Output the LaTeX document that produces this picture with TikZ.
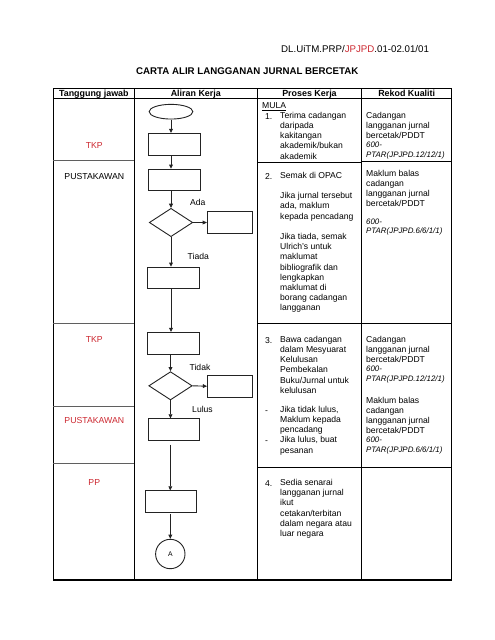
\documentclass[tikz,border=0pt]{standalone}
\usepackage{fontspec}
\setmainfont{Liberation Sans}
\usetikzlibrary{shapes.geometric,arrows.meta}
\definecolor{docred}{RGB}{204,40,48}
\definecolor{flowline}{RGB}{35,35,35}
\definecolor{rowline}{RGB}{95,95,95}
\begin{document}
\begin{tikzpicture}[x=1pt,y=-1pt,
  body/.style={font=\fontsize{8.6}{10.2}\selectfont, inner sep=0pt, anchor=north west, align=left, yshift=7.14pt, execute at begin node={\strut}},
  ital/.style={font=\fontsize{7.9}{9.3}\selectfont\itshape, inner sep=0pt, anchor=north west, align=left, yshift=6.51pt, execute at begin node={\strut}},
  lbl/.style={font=\fontsize{8.6}{10.2}\selectfont, inner sep=0pt, anchor=base},
  lblw/.style={font=\fontsize{8.6}{10.2}\selectfont, inner sep=0pt, anchor=base west},
  head/.style={font=\fontsize{8.9}{10}\selectfont\bfseries, inner sep=0pt, anchor=base},
  resp/.style={font=\fontsize{8.7}{10}\selectfont, inner sep=0pt, anchor=base},
  flowbox/.style={rectangle, draw=flowline, line width=0.9pt, minimum width=51.6pt, minimum height=21.6pt, inner sep=0pt},
  sidebox/.style={rectangle, draw=flowline, line width=0.9pt, minimum width=45pt, minimum height=21.6pt, inner sep=0pt},
  decision/.style={diamond, draw=flowline, line width=0.9pt, minimum width=43.4pt, minimum height=28.3pt, inner sep=0pt},
  flowarrow/.style={draw=flowline, line width=0.9pt, -{Triangle[length=4.2pt,width=3.8pt]}},
  frame/.style={line width=1.2pt, draw=black},
  rule/.style={line width=0.9pt, draw=black},
  greyrule/.style={line width=0.9pt, draw=rowline}
]
\useasboundingbox (0,0) rectangle (495,640);

% document id and title
\node[font=\fontsize{9.7}{11}\selectfont, inner sep=0pt, anchor=base west] (docid) at (281,52.8)
  {DL.UiTM.PRP/\textcolor{docred}{JPJPD}.01-02.01/01};
\node[font=\fontsize{9.7}{11}\selectfont\bfseries, inner sep=0pt, anchor=base] (title) at (247.3,74.8)
  {CARTA ALIR LANGGANAN JURNAL BERCETAK};

% table frame
\draw[frame] (53.3,88.3) rectangle (451.7,580);
\draw[frame] (134.3,88.3) -- (134.3,580);
\draw[frame] (257.3,88.3) -- (257.3,580);
\draw[frame] (361.7,88.3) -- (361.7,580);
\draw[rule] (53.3,98) -- (451.7,98);
% row rules, first column
\draw[greyrule] (53.3,160.5) -- (134.3,160.5);
\draw[greyrule] (53.3,323.3) -- (134.3,323.3);
\draw[greyrule] (53.3,406.7) -- (134.3,406.7);
\draw[greyrule] (53.3,463.3) -- (134.3,463.3);
% row rules, last two columns
\draw[rule] (257.3,162) -- (361.7,162);
\draw[rule] (361.7,161) -- (451.7,161);
\draw[rule] (257.3,323) -- (451.7,323);
\draw[rule] (257.3,467) -- (451.7,467);

% header
\node[head] (h1) at (93.8,96.2) {Tanggung jawab};
\node[head] (h2) at (195.8,96.2) {Aliran Kerja};
\node[head] (h3) at (309.5,96.2) {Proses Kerja};
\node[head] (h4) at (406.7,96.2) {Rekod Kualiti};

% responsibility column
\node[resp, text=docred] (r1) at (94.3,148.1) {TKP};
\node[resp] (r2) at (94.3,179.1) {PUSTAKAWAN};
\node[resp, text=docred] (r3) at (94.3,342.1) {TKP};
\node[resp, text=docred] (r4) at (94.3,423.8) {PUSTAKAWAN};
\node[resp, text=docred] (r5) at (94.3,485.4) {PP};

% flow chart
\node[ellipse, draw=flowline, line width=0.9pt, minimum width=43.7pt, minimum height=14.7pt, inner sep=0pt] (start) at (171,111.7) {};
\node[flowbox] (b1) at (174.5,144.2) {};
\node[flowbox] (b2) at (174.5,180) {};
\node[decision] (d1) at (171,222.5) {};
\node[sidebox] (s1) at (229.8,222.5) {};
\node[flowbox] (b3) at (173.5,278) {};
\node[flowbox] (b4) at (173.5,343.2) {};
\node[decision] (d2) at (170.5,385.8) {};
\node[sidebox] (s2) at (230,386.2) {};
\node[flowbox] (b5) at (174,429.7) {};
\node[flowbox] (b6) at (171,501.7) {};
\node[circle, draw=flowline, line width=0.9pt, minimum size=29.4pt, inner sep=0pt, font=\fontsize{6.8}{8}\selectfont] (conA) at (170.3,554) {A};

\draw[flowarrow] (start.south) -- (start.south |- b1.north);
\draw[flowarrow] (b1.south -| start) -- (b2.north -| start);
\draw[flowarrow] (b2.south -| d1) -- (d1.north);
\draw[flowarrow] (d1.east) -- (s1.west);
\draw[flowarrow] (d1.south) -- (d1.south |- b3.north);
\draw[flowarrow] (b3.south -| d1) -- (b4.north -| d1);
\draw[flowarrow] (b4.south -| d2) -- (d2.north);
\draw[flowarrow] (d2.east) -- (s2.west);
\draw[flowarrow] (d2.south) -- (d2.south |- b5.north);
\draw[flowarrow, shorten <=3.7pt] (b5.south -| conA) -- (b6.north -| conA);
\draw[flowarrow, shorten <=1.5pt] (b6.south -| conA) -- (conA.north);

\node[lbl] (ada) at (197.8,205.7) {Ada};
\node[lbl] (tiada) at (198.3,259.7) {Tiada};
\node[lbl] (tidak) at (200,370.7) {Tidak};
\node[lbl] (lulus) at (202.5,412) {Lulus};

% process column
\node[lblw] (mula) at (262,108.6) {\underline{MULA}};
\node[lblw] (n1) at (265,119) {1.};
\node[body] (p1) at (280,119) {Terima cadangan\\daripada\\kakitangan\\akademik/bukan\\akademik};
\node[lblw] (n2) at (265,179) {2.};
\node[body] (p2) at (280,179) {Semak di OPAC\\[10.2pt]Jika jurnal tersebut\\ada, maklum\\kepada pencadang\\[10.2pt]Jika tiada, semak\\Ulrich's untuk\\maklumat\\bibliografik dan\\lengkapkan\\maklumat di\\borang cadangan\\langganan};
\node[lblw] (n3) at (265,343) {3.};
\node[body] (p3) at (280,343) {Bawa cadangan\\dalam Mesyuarat\\Kelulusan\\Pembekalan\\Buku/Jurnal untuk\\kelulusan};
\node[lblw] (m1) at (265,413) {-};
\node[body] (p3a) at (280,413) {Jika tidak lulus,\\Maklum kepada\\pencadang};
\node[lblw] (m2) at (265,443.6) {-};
\node[body] (p3b) at (280,443.6) {Jika lulus, buat\\pesanan};
\node[lblw] (n4) at (265,486.3) {4.};
\node[body] (p4) at (280,486.3) {Sedia senarai\\langganan jurnal\\ikut\\cetakan/terbitan\\dalam negara atau\\luar negara};

% quality record column
\node[body] (q1) at (366,119) {Cadangan\\langganan jurnal\\bercetak/PDDT};
\node[ital] (q1i) at (366,148.6) {600-\\PTAR(JPJPD.12/12/1)};
\node[body] (q2) at (366,177) {Maklum balas\\cadangan\\langganan jurnal\\bercetak/PDDT};
\node[ital] (q2i) at (366,225) {600-\\PTAR(JPJPD.6/6/1/1)};
\node[body] (q3) at (366,343) {Cadangan\\langganan jurnal\\bercetak/PDDT};
\node[ital] (q3i) at (366,372.5) {600-\\PTAR(JPJPD.12/12/1)};
\node[body] (q4) at (366,403.8) {Maklum balas\\cadangan\\langganan jurnal\\bercetak/PDDT};
\node[ital] (q4i) at (366,443.5) {600-\\PTAR(JPJPD.6/6/1/1)};
\end{tikzpicture}
\end{document}
